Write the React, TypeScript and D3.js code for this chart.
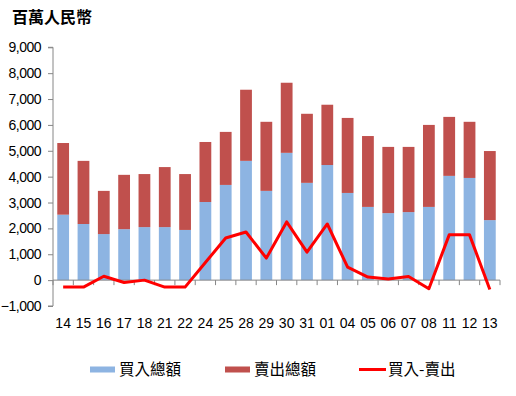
import React, { useEffect, useRef } from 'react';
import * as d3 from 'd3';

// 交易日
const days = ['14', '15', '16', '17', '18', '21', '22', '24', '25', '28', '29', '30', '31', '01', '04', '05', '06', '07', '08', '11', '12', '13'];
// 買入總額 (百萬人民幣)
const buyTotal = [2530, 2170, 1780, 1970, 2050, 2050, 1940, 3020, 3680, 4610, 3450, 4920, 3760, 4450, 3370, 2830, 2590, 2630, 2830, 4030, 3950, 2320];
// 賣出總額
const sellTotal = [2770, 2440, 1670, 2100, 2050, 2320, 2160, 2320, 2050, 2750, 2670, 2710, 2670, 2330, 2900, 2740, 2560, 2520, 3170, 2280, 2170, 2670];
// 買入-賣出
const netFlow = [-270, -270, 150, -90, 0, -270, -270, 680, 1630, 1860, 850, 2250, 1080, 2170, 500, 120, 40, 140, -330, 1750, 1750, -360];
const yTicks = [-1000, 0, 1000, 2000, 3000, 4000, 5000, 6000, 7000, 8000, 9000];

const BLUE = '#8DB4E2';
const RED = '#C0504D';
const LINE = '#FF0000';
const AXIS = '#868686';
const numFont = '"Liberation Sans", Arial, sans-serif';
const cjkFont = '"Noto Sans CJK TC", "Noto Sans CJK SC", sans-serif';

const App = () => {
  const ref = useRef<SVGSVGElement>(null);

  useEffect(() => {
    const svg = d3.select(ref.current);
    svg.selectAll('*').remove();

    const left = 53, right = 500, top = 47.3, bottom = 306;

    const x = d3.scaleBand().domain(days).range([left, right]).paddingInner(0.42).paddingOuter(0.21);
    const step = (right - left) / days.length;
    const y = d3.scaleLinear().domain([-1000, 9000]).range([bottom, top]);

    // 標題
    svg.append('text')
      .attr('x', 12).attr('y', 23)
      .attr('font-family', cjkFont).attr('font-size', 16).attr('font-weight', 'bold')
      .text('百萬人民幣');

    // 堆疊柱
    const g = svg.append('g');
    g.selectAll('rect.buy')
      .data(days)
      .enter().append('rect')
      .attr('class', 'buy')
      .attr('x', d => x(d)!)
      .attr('width', x.bandwidth())
      .attr('y', (d, i) => y(buyTotal[i]))
      .attr('height', (d, i) => y(0) - y(buyTotal[i]))
      .attr('fill', BLUE);

    g.selectAll('rect.sell')
      .data(days)
      .enter().append('rect')
      .attr('class', 'sell')
      .attr('x', d => x(d)!)
      .attr('width', x.bandwidth())
      .attr('y', (d, i) => y(buyTotal[i] + sellTotal[i]))
      .attr('height', (d, i) => y(buyTotal[i]) - y(buyTotal[i] + sellTotal[i]))
      .attr('fill', RED);

    // Y 軸
    const yAxis = svg.append('g')
      .attr('transform', `translate(${left},0)`)
      .call(d3.axisLeft(y).tickValues(yTicks).tickSize(5).tickPadding(7).tickFormat(d3.format(',')));
    yAxis.select('.domain').attr('stroke', AXIS).attr('d', `M-5,${y(9000)}H0V${y(-1000)}H-5`);
    yAxis.selectAll('line').attr('stroke', AXIS);
    yAxis.selectAll('text')
      .attr('font-family', numFont).attr('font-size', 14).attr('fill', '#000')
      .attr('letter-spacing', -0.5);

    // X 軸 (零線)
    const xa = svg.append('g');
    xa.append('line')
      .attr('x1', left).attr('x2', right)
      .attr('y1', y(0)).attr('y2', y(0))
      .attr('stroke', AXIS);
    xa.selectAll('line.tick')
      .data(d3.range(days.length + 1))
      .enter().append('line')
      .attr('class', 'tick')
      .attr('x1', i => left + i * step).attr('x2', i => left + i * step)
      .attr('y1', y(0)).attr('y2', y(0) + 5)
      .attr('stroke', AXIS);
    xa.selectAll('text')
      .data(days)
      .enter().append('text')
      .attr('x', d => x(d)! + x.bandwidth() / 2)
      .attr('y', 328)
      .attr('text-anchor', 'middle')
      .attr('font-family', numFont).attr('font-size', 14)
      .text(d => d);

    // 買入-賣出 線
    const line = d3.line<number>()
      .x((v, i) => x(days[i])! + x.bandwidth() / 2)
      .y(v => y(v));
    svg.append('path')
      .datum(netFlow)
      .attr('d', line)
      .attr('fill', 'none')
      .attr('stroke', LINE)
      .attr('stroke-width', 3)
      .attr('stroke-linejoin', 'round');

    // 圖例
    const legend = [
      { label: '買入總額', color: BLUE, x: 90, type: 'rect' },
      { label: '賣出總額', color: RED, x: 225, type: 'rect' },
      { label: '買入-賣出', color: LINE, x: 359, type: 'line' },
    ];
    const lg = svg.append('g');
    legend.forEach(item => {
      if (item.type === 'rect') {
        lg.append('rect').attr('x', item.x).attr('y', 366.5).attr('width', 25).attr('height', 6).attr('fill', item.color);
      } else {
        lg.append('line').attr('x1', item.x).attr('x2', item.x + 27).attr('y1', 369.5).attr('y2', 369.5)
          .attr('stroke', item.color).attr('stroke-width', 3);
      }
      lg.append('text')
        .attr('x', item.x + 29).attr('y', 375)
        .attr('font-family', cjkFont).attr('font-size', 15.5)
        .text(item.label);
    });
  }, []);

  return (
    <svg ref={ref} width={516} height={396} style={{ position: 'absolute', left: 0, top: 0, background: '#fff' }} />
  );
};

export default App;
